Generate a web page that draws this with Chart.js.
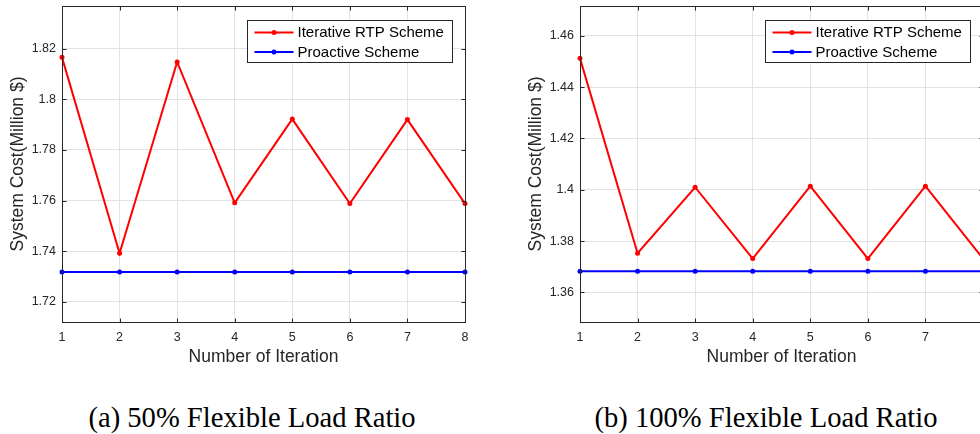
<!DOCTYPE html>
<html>
<head>
<meta charset="utf-8">
<script src="https://cdn.jsdelivr.net/npm/chart.js@4/dist/chart.umd.min.js"></script>
<style>
  html, body { margin: 0; padding: 0; background: #fff; width: 980px; height: 434px; overflow: hidden; }
  .stage { position: absolute; left: 0; top: 0; width: 980px; height: 434px; overflow: hidden; }
  .panel { position: absolute; top: 0; width: 490px; height: 380px; }
  #panelA { left: 0; }
  #panelB { left: 518px; }
  .cap { position: absolute; top: 404px; line-height: 28px; font-family: "Liberation Serif", "Times New Roman", serif;
         font-size: 28.6px; color: #000; white-space: nowrap; transform: translateX(-50%); }
</style>
</head>
<body>
<div class="stage">
  <div class="panel" id="panelA"><canvas id="costA" width="490" height="380"></canvas></div>
  <div class="panel" id="panelB"><canvas id="costB" width="490" height="380"></canvas></div>
  <div class="cap" style="left:252px">(a) 50% Flexible Load Ratio</div>
  <div class="cap" style="left:766px">(b) 100% Flexible Load Ratio</div>
</div>
<script>
// Iteration index on the horizontal axis
const iterations = [1, 2, 3, 4, 5, 6, 7, 8];

// Series names
const seriesNames = ['Iterative RTP Scheme', 'Proactive Scheme'];

// (a) 50% flexible load: system cost in million $
const rtpCost50       = [1.8166, 1.7392, 1.8148, 1.7591, 1.7922, 1.7588, 1.7920, 1.7588];
const proactiveCost50 = [1.7318, 1.7318, 1.7318, 1.7318, 1.7318, 1.7318, 1.7318, 1.7318];
const yTicks50        = [1.72, 1.74, 1.76, 1.78, 1.80, 1.82];
const yTickLabels50   = ['1.72', '1.74', '1.76', '1.78', '1.8', '1.82'];
const yRange50        = [1.712, 1.8369];

// (b) 100% flexible load: system cost in million $
const rtpCost100       = [1.4512, 1.3753, 1.4010, 1.3732, 1.4014, 1.3732, 1.4014, 1.3732];
const proactiveCost100 = [1.3683, 1.3683, 1.3683, 1.3683, 1.3683, 1.3683, 1.3683, 1.3683];
const yTicks100        = [1.36, 1.38, 1.40, 1.42, 1.44, 1.46];
const yTickLabels100   = ['1.36', '1.38', '1.4', '1.42', '1.44', '1.46'];
const yRange100        = [1.3485, 1.4716];

const FONT = '"Liberation Sans", Arial, Helvetica, sans-serif';
const INK = '#262626';
const GRID = '#e2e2e2';

// Boxed axes with inward tick marks on all four sides, plus a boxed legend
const boxedAxes = {
  id: 'boxedAxes',
  afterDatasetsDraw(chart) {
    const { ctx, chartArea: a, scales: { x, y } } = chart;
    const L = Math.round(a.left) + 0.5, R = Math.round(a.right) + 0.5;
    const T = Math.round(a.top) + 0.5, B = Math.round(a.bottom) + 0.5;
    const len = 4;
    ctx.save();
    ctx.strokeStyle = INK;
    ctx.lineWidth = 1;
    ctx.beginPath();
    x.ticks.forEach((t, i) => {
      const px = Math.round(x.getPixelForTick(i)) + 0.5;
      ctx.moveTo(px, B); ctx.lineTo(px, B - len);
      ctx.moveTo(px, T); ctx.lineTo(px, T + len);
    });
    y.ticks.forEach(t => {
      const py = Math.round(y.getPixelForValue(t.value)) + 0.5;
      ctx.moveTo(L, py); ctx.lineTo(L + len, py);
      ctx.moveTo(R, py); ctx.lineTo(R - len, py);
    });
    ctx.stroke();
    ctx.strokeRect(L, T, R - L, B - T);

    // legend
    const bx = Math.round(a.right) - 218 + 0.5, by = Math.round(a.top) + 14 + 0.5;
    const bw = 205, bh = 42;
    ctx.fillStyle = '#fff';
    ctx.fillRect(bx, by, bw, bh);
    ctx.strokeStyle = INK;
    ctx.strokeRect(bx, by, bw, bh);
    ctx.font = '15px ' + FONT;
    ctx.textBaseline = 'middle';
    ctx.textAlign = 'left';
    chart.data.datasets.forEach((ds, i) => {
      const ry = by + 12 + i * 19.4;
      ctx.strokeStyle = ds.borderColor;
      ctx.lineWidth = 2;
      ctx.beginPath();
      ctx.moveTo(bx + 7, ry); ctx.lineTo(bx + 46, ry);
      ctx.stroke();
      ctx.fillStyle = ds.borderColor;
      ctx.beginPath();
      ctx.arc(bx + 26.5, ry, 2.5, 0, Math.PI * 2);
      ctx.fill();
      ctx.fillStyle = '#000';
      ctx.fillText(ds.label, bx + 50, ry + 0.5);
    });
    ctx.restore();
  }
};

function makeChart(id, rtp, proactive, yTicks, yLabels, yRange) {
  const series = (label, data, color) => ({
    label, data,
    borderColor: color, backgroundColor: color,
    borderWidth: 2, pointRadius: 2.5, pointHoverRadius: 2.5,
    pointBorderWidth: 0, tension: 0, clip: false
  });
  return new Chart(document.getElementById(id), {
    type: 'line',
    data: {
      labels: iterations.map(String),
      datasets: [
        series(seriesNames[0], rtp, '#ff0000'),
        series(seriesNames[1], proactive, '#0000ff')
      ]
    },
    options: {
      responsive: false,
      devicePixelRatio: 1,
      animation: false,
      layout: { padding: { left: 0, right: 25, top: 6, bottom: 0 } },
      plugins: { legend: { display: false }, tooltip: { enabled: false } },
      scales: {
        x: {
          type: 'category',
          offset: false,
          grid: { color: GRID, lineWidth: 1, drawTicks: false },
          border: { display: false },
          ticks: { font: { family: FONT, size: 12.5 }, color: INK, padding: 8, maxRotation: 0, autoSkip: false },
          title: { display: true, text: 'Number of Iteration', color: INK,
                   font: { family: FONT, size: 17.5 }, padding: { top: 0, bottom: 12.8 } },
          afterFit(s) { s.height = 58; s.paddingLeft = 0; s.paddingRight = 0; }
        },
        y: {
          type: 'linear',
          min: yRange[0], max: yRange[1],
          afterBuildTicks(s) { s.ticks = yTicks.map(v => ({ value: v })); },
          grid: { color: GRID, lineWidth: 1, drawTicks: false },
          border: { display: false },
          ticks: {
            font: { family: FONT, size: 12.5 }, color: INK, padding: 6,
            callback: (v) => yLabels[yTicks.findIndex(t => Math.abs(t - v) < 1e-9)]
          },
          title: { display: true, text: 'System Cost(Million $)', color: INK,
                   font: { family: FONT, size: 17.5 }, padding: { top: 7.5, bottom: 0 } },
          afterFit(s) { s.width = 62; s.paddingTop = 0; s.paddingBottom = 0; }
        }
      }
    },
    plugins: [boxedAxes]
  });
}

makeChart('costA', rtpCost50, proactiveCost50, yTicks50, yTickLabels50, yRange50);
makeChart('costB', rtpCost100, proactiveCost100, yTicks100, yTickLabels100, yRange100);
</script>
</body>
</html>
